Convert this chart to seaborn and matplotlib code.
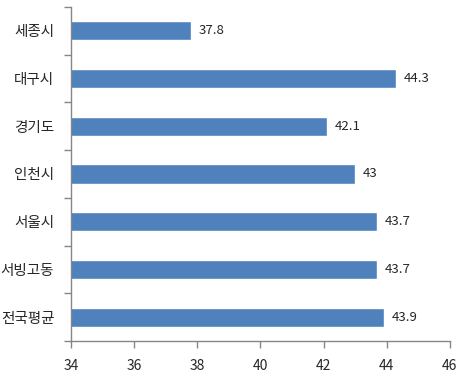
import numpy as np
import pandas as pd
import matplotlib.pyplot as plt
import seaborn as sns

# values
regions = ['세종시', '대구시', '경기도', '인천시', '서울시', '서빙고동', '전국평균']
values = [37.8, 44.3, 42.1, 43, 43.7, 43.7, 43.9]
labels = ['37.8', '44.3', '42.1', '43', '43.7', '43.7', '43.9']
x_ticks = [34, 36, 38, 40, 42, 44, 46]

sns.set_style('white')
plt.rcParams['font.family'] = ['Noto Sans CJK KR', 'DejaVu Sans']

df = pd.DataFrame({'region': regions, 'value': values})

fig = plt.figure(figsize=(4.76, 3.77), dpi=100)
ax = fig.add_axes([0.149, 0.0955, 0.796, 0.886])

sns.barplot(data=df, x='value', y='region', orient='h', color='#4F81BD',
            saturation=1, width=0.4, ax=ax)

ax.set_xlim(34, 46)
ax.set_ylim(len(regions) - 0.5, -0.5)
ax.set_xticks(x_ticks)
ax.set_xticklabels([str(t) for t in x_ticks], fontsize=10)
ax.set_yticks(range(len(regions)))
ax.set_yticklabels(regions, fontsize=10.5)
ax.set_yticks(np.arange(-0.5, len(regions)), minor=True)
ax.tick_params(axis='y', which='both', left=True)
ax.tick_params(axis='x', which='both', bottom=True)
ax.tick_params(axis='y', which='major', length=0, pad=12)
ax.tick_params(axis='y', which='minor', length=5, color='#868686', width=1)
ax.tick_params(axis='x', which='major', length=5, color='#868686', width=1, pad=8)
ax.set_xlabel('')
ax.set_ylabel('')

for s in ['top', 'right']:
    ax.spines[s].set_visible(False)
for s in ['left', 'bottom']:
    ax.spines[s].set_color('#868686')
    ax.spines[s].set_linewidth(1)

for i, (v, lab) in enumerate(zip(values, labels)):
    ax.text(v + 0.25, i, lab, va='center', ha='left', fontsize=9.5)

fig.savefig('out.png', dpi=100)
